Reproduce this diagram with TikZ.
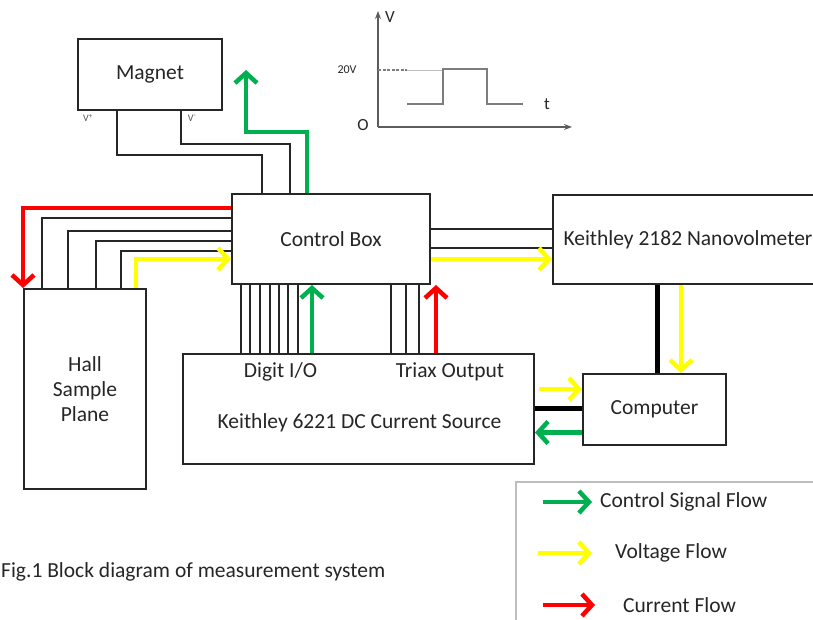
\documentclass[tikz,border=0pt]{standalone}
\usepackage{fontspec}
\setmainfont{Carlito}
\usetikzlibrary{arrows.meta}

\definecolor{flowgreen}{HTML}{00B050}
\definecolor{flowyellow}{HTML}{FFFF00}
\definecolor{flowred}{HTML}{FF0000}
\definecolor{ink}{HTML}{262626}

\tikzset{
  box/.style={draw=ink, line width=2pt, inner sep=0pt, fill=white,
    font=\fontsize{21.5}{25}\selectfont, text=ink},
  txt/.style={inner sep=0pt, font=\fontsize{21.5}{25}\selectfont, text=ink},
  tiny/.style={inner sep=0pt, font=\fontsize{10}{12}\selectfont, text=ink!80},
  wavetxt/.style={inner sep=0pt, font=\fontsize{17}{19}\selectfont, text=ink},
  wire/.style={draw=ink, line width=1.5pt},
  thickwire/.style={draw=black, line width=5pt},
  flow/.style={line width=4.5pt, -{Straight Barb[length=10pt,width=22pt]}},
  greenflow/.style={flow, draw=flowgreen},
  yellowflow/.style={flow, draw=flowyellow},
  redflow/.style={flow, draw=flowred},
  axis/.style={draw=ink!75, line width=1.5pt, -{Stealth[length=8pt,width=6pt]}},
  pulse/.style={draw=ink!60, line width=2pt}
}

\begin{document}
\begin{tikzpicture}[x=1pt,y=1pt]

% Frame
\clip (0,0) rectangle (813,620);
\fill[white] (0,0) rectangle (813,620);

% Boxes
\node[box, minimum width=144pt, minimum height=71pt] (magnet) at (150,545.5) {Magnet};
\node[box, minimum width=198pt, minimum height=90pt] (ctrl) at (331,381) {Control Box};
\node[box, minimum width=122pt, minimum height=200pt, align=center] (hall) at (85,231)
    {Hall\\Sample\\Plane};
\node[box, minimum width=351pt, minimum height=110pt] (src) at (358.5,211) {};
\node[box, minimum width=270pt, minimum height=89pt] (nvm) at (688,380.5)
    {Keithley 2182 Nanovolmeter};
\node[box, minimum width=143pt, minimum height=71pt] (pc) at (654.5,210.5) {Computer};

% Labels
\node[txt] (dio) at (280.5,248) {Digit I/O};
\node[txt] (triax) at (450,248) {Triax Output};
\node[txt] (srcname) at (359.5,197) {Keithley 6221 DC Current Source};
\node[tiny] (vplus) at (88,502) {V\textsuperscript{+}};
\node[tiny] (vminus) at (192,502) {V\textsuperscript{-}};
\node[txt, anchor=west] (caption) at (1,48) {Fig.1 Block diagram of measurement system};

% Magnet wires
\draw[wire] ([xshift=40pt]magnet.south west) -- ++(0,-44) -| ([xshift=31pt]ctrl.north west);
\draw[wire] ([xshift=104pt]magnet.south west) -- ++(0,-33) -| ([xshift=59pt]ctrl.north west);
\coordinate (magctl) at (246,550);
\draw[greenflow] ([xshift=76pt]ctrl.north west) -- ++(0,61) -| (magctl);

% Hall wires
\draw[redflow] ([yshift=-15pt]ctrl.north west) -| (hall.north west);
\draw[wire] ([yshift=-25pt]ctrl.north west) -| ([xshift=19pt]hall.north west);
\draw[wire] ([yshift=-38pt]ctrl.north west) -| ([xshift=45pt]hall.north west);
\draw[wire] ([yshift=-48pt]ctrl.north west) -| ([xshift=73pt]hall.north west);
\draw[wire] ([yshift=-58pt]ctrl.north west) -| ([xshift=98pt]hall.north west);
\draw[yellowflow] ([xshift=113pt]hall.north west) |- ([yshift=26pt]ctrl.south west);

% Current source wires
\foreach \dx in {10,19,29,39,48,57,67,160,175,188}
  \draw[wire] ([xshift=\dx pt]ctrl.south west) -- ([xshift=\dx pt]ctrl.south west |- src.north);
\draw[greenflow] ([xshift=81pt]ctrl.south west |- src.north) -- ([xshift=81pt]ctrl.south west);
\draw[redflow] ([xshift=205pt]ctrl.south west |- src.north) -- ([xshift=205pt]ctrl.south west);

% Nanovoltmeter wires
\draw[wire] ([yshift=10pt]ctrl.east) -- ([yshift=10pt]ctrl.east -| nvm.west);
\draw[wire] ([yshift=-9pt]ctrl.east) -- ([yshift=-9pt]ctrl.east -| nvm.west);
\draw[yellowflow] ([yshift=-20pt]ctrl.east) -- ([yshift=-20pt]ctrl.east -| nvm.west);

% Computer links
\draw[thickwire] ([xshift=105pt]nvm.south west) -- ([xshift=105pt]nvm.south west |- pc.north);
\draw[yellowflow] ([xshift=129pt]nvm.south west) -- ([xshift=129pt]nvm.south west |- pc.north);
\draw[yellowflow] ([shift={(4pt,20pt)}]src.east) -- ([yshift=20pt]src.east -| pc.west);
\draw[thickwire] (src.east) -- (src.east -| pc.west);
\draw[greenflow] ([yshift=-23pt]pc.west) -- ([yshift=-23pt]pc.west -| src.east);

% Legend
\draw[ink!30, line width=1.5pt] (516,-20) rectangle (840,138);
\node[txt, anchor=west] (lgreen) at (600,118) {Control Signal Flow};
\node[txt, anchor=west] (lyellow) at (615,67) {Voltage Flow};
\node[txt, anchor=west] (lred) at (623,15) {Current Flow};
\draw[greenflow] ([xshift=-57pt]lgreen.west) -- ([xshift=-8pt]lgreen.west);
\draw[yellowflow] ([xshift=-77pt]lyellow.west) -- ([xshift=-23pt]lyellow.west);
\draw[redflow] ([xshift=-80pt]lred.west) -- ([xshift=-28pt]lred.west);

% Waveform
\draw[axis] (378,493) -- (378,609);
\draw[axis] (378,493) -- (572,493);
\draw[ink!60, line width=1.2pt, dash pattern=on 3pt off 1.5pt] (378,550) -- (407,550);
\draw[ink!30, line width=0.8pt] (407,550) -- (443,550);
\draw[pulse] (407,516) -- (443,516) -- (443,551) -- (487,551) -- (487,516) -- (523,516);
\node[wavetxt] (vlab) at (390,603) {V};
\node[wavetxt] (olab) at (363,495) {O};
\node[wavetxt] (tlab) at (547,516) {t};
\node[inner sep=0pt, font=\fontsize{12}{14}\selectfont, text=ink] (level) at (347,550) {20V};

\end{tikzpicture}
\end{document}
